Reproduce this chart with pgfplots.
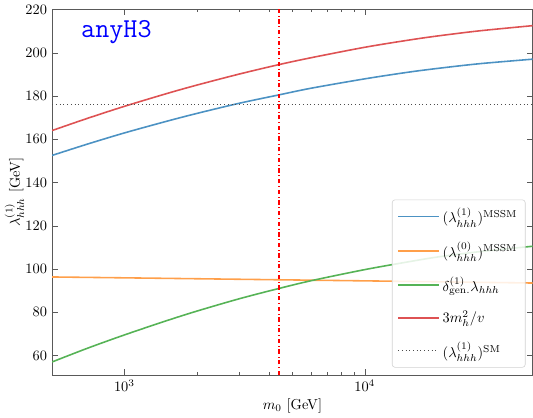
\documentclass[border=0pt]{standalone}
\usepackage{pgfplots}
\pgfplotsset{compat=1.18}

\definecolor{mblue}{HTML}{4C92C3}
\definecolor{morange}{HTML}{FF9F4A}
\definecolor{mgreen}{HTML}{56B356}
\definecolor{mred}{HTML}{DE5253}
\definecolor{vred}{HTML}{FF0000}

\begin{document}
\begin{tikzpicture}
\begin{axis}[
    scale only axis,
    width=334pt, height=254pt,
    xmode=log,
    xmin=500, xmax=50000,
    ymin=51, ymax=220,
    ytick={60,80,...,220},
    xtick={1000,10000},
    tick align=inside,
    ticks=both,
    major tick length=4pt,
    minor tick length=2pt,
    axis line style={gray!70!black},
    tick style={gray!70!black},
    xlabel={$m_0$ [GeV]},
    ylabel={$\lambda^{(1)}_{hhh}$ [GeV]},
    ylabel style={yshift=-6pt},
    xlabel style={yshift=2pt},
    legend style={at={(rel axis cs:0.985,0.02)}, anchor=south east,
        draw=gray!35, rounded corners=2pt, fill=white, fill opacity=0.85,
        text opacity=1, row sep=8pt, inner sep=3.5pt},
    legend cell align=left,
    legend image code/.code={\draw[#1, sharp plot] (0cm,0cm) -- (1cm,0cm);},
]
\addplot[mblue, line width=1.1pt, smooth] coordinates {
 (500,152.5) (700,157.7) (1000,162.9) (1500,168.3) (2000,171.9) (3000,176.6)
 (4400,180.5) (6000,183.6) (10000,187.9) (15000,190.9) (20000,192.7) (30000,194.9) (50000,197)
};
\addlegendentry{$(\lambda^{(1)}_{hhh})^{\mathrm{MSSM}}$}
\addplot[morange, line width=1.1pt] coordinates {
 (500,96.3) (1000,95.9) (4400,95.0) (10000,94.5) (50000,93.5)
};
\addlegendentry{$(\lambda^{(0)}_{hhh})^{\mathrm{MSSM}}$}
\addplot[mgreen, line width=1.1pt, smooth] coordinates {
 (500,57) (700,63.3) (1000,69.5) (1500,76.1) (2000,80.5) (3000,86.2)
 (4400,91) (6000,94.6) (10000,99.7) (15000,103.2) (20000,105.5) (30000,108) (50000,110.5)
};
\addlegendentry{$\delta^{(1)}_{\mathrm{gen.}}\lambda_{hhh}$}
\addplot[mred, line width=1.1pt, smooth] coordinates {
 (500,164) (700,169.6) (1000,175.2) (1500,181.1) (2000,185) (3000,190.1)
 (4400,194.5) (6000,197.7) (10000,202.5) (15000,205.7) (20000,207.7) (30000,210.1) (50000,212.5)
};
\addlegendentry{$3m_h^2/v$}
\addplot[black!70, dotted, line width=0.6pt] coordinates {(500,176.2) (50000,176.2)};
\addlegendentry{$(\lambda^{(1)}_{hhh})^{\mathrm{SM}}$}
\addplot[color=vred, dash dot, line width=1pt, forget plot] coordinates {(4400,51) (4400,220)};
\node[anchor=north west, text=blue, font=\ttfamily\fontsize{19}{21}\selectfont]
    at (rel axis cs:0.05,0.985) {anyH3};
\end{axis}
\end{tikzpicture}
\end{document}
